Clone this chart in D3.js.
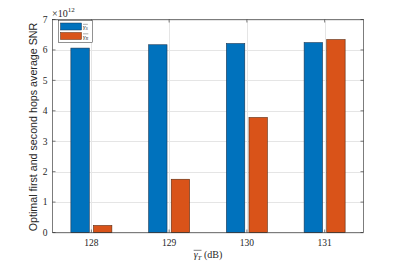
<!DOCTYPE html>
<html><head><meta charset="utf-8">
<script src="https://cdn.jsdelivr.net/npm/d3@7"></script>
<style>body{margin:0;background:#fff}svg{display:block}</style>
</head><body>
<svg id="c" width="402" height="262"></svg>
<script>
const categories = ["128", "129", "130", "131"];
const series1 = [6.06, 6.17, 6.21, 6.24];   // x10^12
const series2 = [0.23, 1.75, 3.78, 6.34];   // x10^12
const yTicks = [0, 1, 2, 3, 4, 5, 6, 7];
const seriesNames = ["S", "R"];

const svg = d3.select("#c");
const L = 52.5, R = 363.5, T = 19.5, B = 232.5;
const x = d3.scaleBand().domain(categories).range([L, R]).paddingInner(0).paddingOuter(0);
const y = d3.scaleLinear().domain([0, 7]).range([B, T]);
const off = 11.3, bw = 18.4;
const axisCol = "#262626", gridCol = "#e5e5e5";
const cx = c => x(c) + x.bandwidth() / 2;

// grid
const g = svg.append("g");
g.selectAll(".gy").data(yTicks).join("line")
  .attr("x1", L).attr("x2", R).attr("y1", d => Math.round(y(d)) + 0.5).attr("y2", d => Math.round(y(d)) + 0.5)
  .attr("stroke", gridCol).attr("stroke-width", 1);
g.selectAll(".gx").data(categories).join("line")
  .attr("y1", T).attr("y2", B).attr("x1", d => Math.round(cx(d)) + 0.5).attr("x2", d => Math.round(cx(d)) + 0.5)
  .attr("stroke", gridCol).attr("stroke-width", 1);

// bars
const colors = ["#0072BD", "#D95319"];
const edges = ["#1a3550", "#5a2a10"];
[series1, series2].forEach((s, i) => {
  svg.append("g").selectAll("rect").data(s).join("rect")
    .attr("x", (d, j) => cx(categories[j]) + (i === 0 ? -off : off) - bw / 2)
    .attr("width", bw)
    .attr("y", d => y(d))
    .attr("height", d => B - y(d))
    .attr("fill", colors[i]).attr("stroke", edges[i]).attr("stroke-width", 0.6);
});

// box + ticks
svg.append("rect").attr("x", L).attr("y", T).attr("width", R - L).attr("height", B - T)
  .attr("fill", "none").attr("stroke", axisCol).attr("stroke-width", 0.6);
const tl = 3;
svg.append("g").selectAll("line").data(yTicks).join("line")
  .attr("x1", L).attr("x2", L + tl).attr("y1", d => y(d)).attr("y2", d => y(d)).attr("stroke", axisCol).attr("stroke-width", 0.6);
svg.append("g").selectAll("line").data(yTicks).join("line")
  .attr("x1", R).attr("x2", R - tl).attr("y1", d => y(d)).attr("y2", d => y(d)).attr("stroke", axisCol).attr("stroke-width", 0.6);
svg.append("g").selectAll("line").data(categories).join("line")
  .attr("x1", d => cx(d)).attr("x2", d => cx(d)).attr("y1", B).attr("y2", B - tl).attr("stroke", axisCol).attr("stroke-width", 0.6);
svg.append("g").selectAll("line").data(categories).join("line")
  .attr("x1", d => cx(d)).attr("x2", d => cx(d)).attr("y1", T).attr("y2", T + tl).attr("stroke", axisCol).attr("stroke-width", 0.6);

const serif = "'Liberation Serif','DejaVu Serif',serif";
// y tick labels
svg.append("g").selectAll("text").data(yTicks).join("text")
  .attr("x", L - 5).attr("y", d => y(d) + 3.3).attr("text-anchor", "end")
  .attr("font-family", serif).attr("font-size", 9.5).attr("fill", axisCol).text(d => d);
// x tick labels
svg.append("g").selectAll("text").data(categories).join("text")
  .attr("x", d => cx(d)).attr("y", 245.5).attr("text-anchor", "middle")
  .attr("font-family", serif).attr("font-size", 9.5).attr("fill", axisCol).text(d => d);
// exponent
const ex = svg.append("text").attr("x", 52).attr("y", 16.5).attr("font-family", serif).attr("font-size", 10).attr("fill", axisCol);
ex.append("tspan").text("×10");
ex.append("tspan").attr("dy", -4.5).attr("font-size", 7).text("12");

// overline helper
function overlined(sel, base, sub, fs, subfs, xx, yy, anchor, rest) {
  const t = sel.append("text").attr("x", xx).attr("y", yy).attr("text-anchor", anchor)
    .attr("font-family", serif).attr("font-size", fs).attr("fill", axisCol);
  t.append("tspan").attr("font-style", "italic").text(base);
  t.append("tspan").attr("font-size", subfs).attr("font-style", "italic").attr("dy", fs * 0.2).text(sub);
  if (rest) t.append("tspan").attr("dy", -fs * 0.2).text(rest);
  const node = t.node();
  const n = base.length + sub.length;
  const s = node.getStartPositionOfChar(0), e = node.getEndPositionOfChar(n - 1);
  sel.append("line").attr("x1", s.x).attr("x2", e.x)
    .attr("y1", yy - fs * 0.72).attr("y2", yy - fs * 0.72)
    .attr("stroke", axisCol).attr("stroke-width", fs * 0.06);
  return t;
}

// x label
overlined(svg, "γ", "T", 10, 7, 208, 257.5, "middle", " (dB)");

// y label
svg.append("text").attr("transform", "translate(37,127) rotate(-90)").attr("text-anchor", "middle")
  .attr("font-family", "'Liberation Sans',Arial,sans-serif").attr("font-size", 10.7).attr("fill", axisCol)
  .text("Optimal first and second hops average SNR");

// legend
const lg = svg.append("g");
lg.append("rect").attr("x", 58.5).attr("y", 20.5).attr("width", 34).attr("height", 22)
  .attr("fill", "#fff").attr("stroke", "#262626").attr("stroke-width", 0.5);
[0, 1].forEach(i => {
  const yy = 23 + i * 9.5;
  lg.append("rect").attr("x", 60.5).attr("y", yy).attr("width", 21).attr("height", 7)
    .attr("fill", colors[i]).attr("stroke", edges[i]).attr("stroke-width", 0.5);
  overlined(lg, "γ", seriesNames[i], 6.5, 4.5, 83, yy + 6, "start", null);
});
</script>
</body></html>
